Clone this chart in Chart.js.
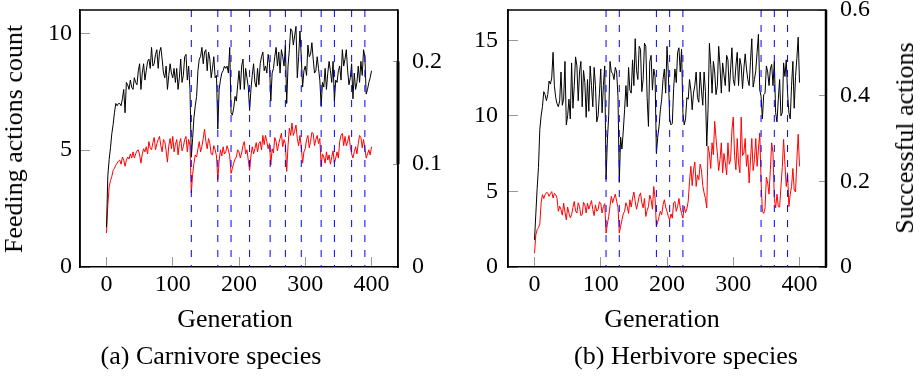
<!DOCTYPE html>
<html>
<head>
<meta charset="utf-8">
<script src="https://cdn.jsdelivr.net/npm/chart.js@4.4.0/dist/chart.umd.min.js"></script>
<style>
  body { margin: 0; background: #fff; width: 920px; height: 376px; position: relative; overflow: hidden; font-family: "Liberation Serif", serif; }
  canvas { position: absolute; top: 0; }
  .lbl { position: absolute; font-size: 26px; line-height: 26px; white-space: nowrap; color: #000; }
  .rot { transform: translate(-50%, -50%) rotate(-90deg); }
  .ctr { transform: translateX(-50%); }
</style>
</head>
<body>
<canvas id="chartA" width="460" height="376" style="left:0px"></canvas>
<canvas id="chartB" width="460" height="376" style="left:460px"></canvas>
<div class="lbl rot" style="left:13.5px; top:139px">Feeding actions count</div>
<div class="lbl rot" style="left:905px; top:138px">Successful actions</div>
<div class="lbl ctr" style="left:235px; top:306px">Generation</div>
<div class="lbl ctr" style="left:662px; top:306px">Generation</div>
<div class="lbl ctr" style="left:211px; top:343px">(a) Carnivore species</div>
<div class="lbl ctr" style="left:686px; top:343px">(b) Herbivore species</div>
<script>
// generation of each sample (every 2nd generation, 0..400)
const gens = Array.from({ length: 201 }, (_, i) => i * 2);

// (a) carnivores: feeding actions (left axis), successful actions (right axis)
const feedA = [
  1.7, 3.9, 4.6, 5.1, 5.7, 6.1, 6.6, 7.0, 6.9, 7.0,
  7.0, 6.9, 7.2, 7.6, 6.6, 7.9, 7.8, 7.6, 8.0, 7.7,
  7.6, 8.1, 7.9, 7.8, 8.4, 8.7, 7.6, 8.3, 8.7, 8.0,
  8.4, 8.8, 8.9, 8.5, 9.4, 8.6, 8.7, 9.1, 9.3, 8.5,
  9.2, 9.4, 8.9, 8.3, 8.1, 8.6, 7.6, 8.2, 8.7, 8.3,
  8.1, 8.5, 7.9, 8.5, 7.6, 8.1, 8.9, 7.9, 8.2, 9.0,
  9.1, 8.0, 8.6, 7.6, 4.7, 5.5, 6.4, 6.9, 7.3, 8.4,
  8.9, 9.0, 9.4, 8.7, 9.2, 9.3, 8.4, 9.2, 8.9, 8.1,
  8.5, 9.0, 8.1, 8.2, 5.9, 7.6, 8.0, 8.3, 8.4, 8.6,
  8.5, 8.6, 8.3, 9.4, 6.6, 6.5, 6.8, 7.3, 7.1, 7.8,
  8.4, 7.6, 8.6, 8.9, 7.6, 8.5, 8.1, 7.7, 6.7, 7.6,
  8.2, 8.7, 7.9, 7.7, 8.5, 7.8, 8.7, 9.0, 9.2, 8.4,
  8.6, 8.3, 9.1, 8.7, 7.1, 8.3, 8.5, 9.0, 9.4, 8.6,
  9.2, 8.3, 9.3, 9.0, 8.6, 9.5, 7.0, 8.6, 9.3, 10.2,
  10.1, 9.5, 9.9, 10.3, 8.1, 9.0, 10.1, 9.0, 7.7, 8.4,
  8.6, 8.2, 9.5, 9.0, 9.1, 9.6, 8.9, 8.3, 8.4, 9.0,
  8.5, 8.0, 6.9, 7.9, 7.7, 8.5, 7.6, 8.3, 8.8, 8.4,
  7.9, 8.8, 7.1, 8.0, 7.9, 8.4, 8.6, 8.0, 9.3, 8.6,
  8.9, 9.3, 8.4, 7.8, 8.1, 8.7, 7.2, 8.3, 7.6, 7.9,
  8.6, 7.9, 8.8, 8.2, 9.3, 9.0, 7.4, 7.6, 7.9, 8.1,
  8.4
];
const succA = [
  0.033, 0.060, 0.078, 0.084, 0.088, 0.094, 0.096, 0.099, 0.101, 0.103,
  0.104, 0.100, 0.107, 0.104, 0.098, 0.104, 0.107, 0.105, 0.110, 0.106,
  0.112, 0.106, 0.110, 0.113, 0.114, 0.109, 0.101, 0.110, 0.115, 0.112,
  0.117, 0.110, 0.122, 0.116, 0.114, 0.121, 0.126, 0.114, 0.120, 0.124,
  0.127, 0.118, 0.112, 0.124, 0.122, 0.113, 0.102, 0.118, 0.125, 0.115,
  0.127, 0.112, 0.119, 0.124, 0.109, 0.120, 0.125, 0.113, 0.117, 0.124,
  0.127, 0.112, 0.124, 0.118, 0.072, 0.090, 0.101, 0.109, 0.107, 0.115,
  0.122, 0.112, 0.117, 0.125, 0.134, 0.122, 0.115, 0.125, 0.120, 0.110,
  0.109, 0.118, 0.114, 0.108, 0.085, 0.103, 0.114, 0.108, 0.117, 0.110,
  0.112, 0.118, 0.114, 0.108, 0.091, 0.096, 0.101, 0.105, 0.107, 0.114,
  0.112, 0.106, 0.111, 0.118, 0.122, 0.110, 0.114, 0.104, 0.094, 0.108,
  0.117, 0.110, 0.115, 0.121, 0.112, 0.120, 0.122, 0.114, 0.128, 0.119,
  0.128, 0.122, 0.115, 0.120, 0.099, 0.115, 0.111, 0.126, 0.122, 0.113,
  0.120, 0.125, 0.130, 0.117, 0.124, 0.120, 0.093, 0.118, 0.135, 0.128,
  0.140, 0.128, 0.132, 0.138, 0.125, 0.118, 0.128, 0.117, 0.101, 0.112,
  0.115, 0.124, 0.128, 0.116, 0.122, 0.131, 0.130, 0.118, 0.124, 0.128,
  0.120, 0.125, 0.098, 0.110, 0.107, 0.101, 0.112, 0.104, 0.109, 0.100,
  0.107, 0.113, 0.101, 0.106, 0.112, 0.106, 0.122, 0.128, 0.130, 0.118,
  0.127, 0.118, 0.122, 0.128, 0.117, 0.110, 0.106, 0.112, 0.117, 0.110,
  0.120, 0.128, 0.126, 0.116, 0.124, 0.115, 0.106, 0.110, 0.114, 0.109,
  0.117
];
const resetsA = [128, 168, 188, 216, 247, 270, 294, 324, 344, 370, 390];

// (b) herbivores
const feedB = [
  1.8, 3.5, 5.2, 6.6, 9.1, 10.0, 10.6, 11.6, 11.4, 11.0,
  11.4, 12.3, 12.1, 12.5, 14.2, 12.0, 11.2, 10.8, 10.6, 11.0,
  12.9, 10.7, 11.1, 13.6, 9.4, 10.0, 11.1, 9.8, 13.5, 10.5,
  12.0, 13.9, 13.3, 11.0, 12.9, 13.6, 10.6, 13.0, 12.2, 9.9,
  12.4, 10.3, 13.3, 12.0, 10.6, 13.2, 12.0, 9.6, 10.0, 11.5,
  13.1, 10.2, 12.0, 13.3, 5.8, 8.4, 10.0, 13.6, 12.9, 12.8,
  12.4, 13.2, 12.9, 11.3, 5.6, 8.6, 7.8, 9.0, 10.4, 12.0,
  10.6, 13.2, 11.7, 11.5, 13.7, 12.0, 15.1, 13.0, 12.4, 14.6,
  14.4, 11.6, 12.4, 14.8, 14.6, 11.2, 9.3, 13.6, 14.0, 11.7,
  13.1, 12.6, 7.5, 8.6, 9.3, 10.4, 11.1, 12.4, 13.1, 11.5,
  14.6, 12.8, 9.8, 9.4, 9.5, 11.8, 13.1, 12.2, 14.2, 14.5,
  12.9, 14.4, 10.2, 9.4, 9.8, 11.2, 11.1, 12.4, 11.7, 10.4,
  11.5, 12.0, 12.9, 11.2, 10.9, 12.9, 11.7, 10.7, 12.9, 11.6,
  8.0, 10.5, 14.8, 13.4, 11.5, 13.6, 12.9, 11.4, 12.0, 14.6,
  13.3, 11.5, 13.5, 12.7, 12.0, 14.0, 13.7, 11.6, 13.1, 14.5,
  12.4, 12.0, 13.3, 14.2, 12.0, 13.8, 13.3, 11.8, 13.1, 14.1,
  13.1, 12.4, 12.0, 13.6, 15.1, 11.9, 12.4, 13.0, 14.2, 15.4,
  11.7, 11.3, 9.8, 11.4, 11.5, 13.3, 12.9, 12.0, 13.1, 13.4,
  12.0, 13.6, 10.2, 9.6, 11.1, 12.4, 10.0, 10.2, 13.5, 12.6,
  13.7, 11.5, 10.2, 9.8, 12.0, 13.6, 10.5, 12.6, 13.8, 15.2,
  12.2
];
const succB = [
  0.032, 0.075, 0.087, 0.092, 0.100, 0.150, 0.169, 0.160, 0.169, 0.174,
  0.173, 0.165, 0.171, 0.176, 0.161, 0.172, 0.169, 0.160, 0.130, 0.142,
  0.134, 0.121, 0.149, 0.128, 0.110, 0.140, 0.126, 0.115, 0.122, 0.139,
  0.153, 0.131, 0.126, 0.150, 0.141, 0.120, 0.122, 0.151, 0.145, 0.126,
  0.149, 0.135, 0.145, 0.155, 0.134, 0.120, 0.145, 0.130, 0.134, 0.152,
  0.149, 0.126, 0.141, 0.148, 0.079, 0.100, 0.118, 0.143, 0.165, 0.150,
  0.161, 0.170, 0.153, 0.140, 0.079, 0.095, 0.110, 0.124, 0.130, 0.150,
  0.141, 0.125, 0.157, 0.140, 0.161, 0.175, 0.153, 0.135, 0.149, 0.165,
  0.173, 0.150, 0.138, 0.160, 0.118, 0.132, 0.141, 0.168, 0.157, 0.135,
  0.188, 0.160, 0.095, 0.105, 0.118, 0.130, 0.122, 0.145, 0.157, 0.140,
  0.130, 0.118, 0.110, 0.124, 0.114, 0.150, 0.153, 0.130, 0.141, 0.160,
  0.138, 0.125, 0.114, 0.142, 0.127, 0.136, 0.153, 0.200, 0.235, 0.190,
  0.227, 0.245, 0.188, 0.215, 0.204, 0.240, 0.227, 0.190, 0.173, 0.160,
  0.138, 0.282, 0.266, 0.230, 0.290, 0.262, 0.340, 0.300, 0.266, 0.225,
  0.251, 0.290, 0.220, 0.265, 0.243, 0.215, 0.290, 0.240, 0.250, 0.320,
  0.350, 0.260, 0.227, 0.300, 0.243, 0.220, 0.350, 0.260, 0.266, 0.300,
  0.235, 0.262, 0.196, 0.250, 0.300, 0.225, 0.251, 0.300, 0.235, 0.275,
  0.313, 0.200, 0.130, 0.125, 0.138, 0.210, 0.196, 0.170, 0.227, 0.290,
  0.266, 0.160, 0.138, 0.170, 0.141, 0.140, 0.188, 0.232, 0.298, 0.240,
  0.188, 0.220, 0.141, 0.170, 0.188, 0.230, 0.180, 0.175, 0.250, 0.310,
  0.235
];
const resetsB = [108, 128, 184, 204, 224, 342, 362, 382];

const xTicks = [0, 100, 200, 300, 400];
const yTicksA = [0, 5, 10];
const y1TicksA = [0, 0.1, 0.2];
const yTicksB = [0, 5, 10, 15];
const y1TicksB = [0, 0.2, 0.4, 0.6];

const tickFont = { family: 'Liberation Serif', size: 24, lineHeight: 1.2 };
const frameColor = '#000';

// dashed reset markers + frame edges, drawn on top of everything
const overlay = {
  id: 'overlay',
  afterDraw(chart, args, o) {
    const { ctx, chartArea: a, scales } = chart;
    ctx.save();
    ctx.strokeStyle = '#0000ff';
    ctx.lineWidth = 1;
    ctx.setLineDash([7, 8]);
    o.resets.forEach(g => {
      const px = scales.x.getPixelForValue(g);
      ctx.beginPath();
      ctx.moveTo(px, a.top);
      ctx.lineTo(px, a.bottom);
      ctx.stroke();
    });
    ctx.setLineDash([]);
    ctx.strokeStyle = frameColor;
    ctx.lineWidth = 1.5;
    ctx.beginPath();
    ctx.moveTo(a.left, a.top);
    ctx.lineTo(a.right, a.top);
    ctx.moveTo(a.left, a.top);
    ctx.lineTo(a.left, a.bottom);
    ctx.moveTo(a.right, a.top);
    ctx.lineTo(a.right, a.bottom);
    ctx.stroke();
    ctx.lineWidth = o.thickW;
    ctx.beginPath();
    ctx.moveTo(a.right, scales.y1.getPixelForValue(o.thickFrom));
    ctx.lineTo(a.right, scales.y1.getPixelForValue(o.thickTo));
    ctx.stroke();
    ctx.restore();
  }
};

function axis(pos, min, max, ticks, width, tickLen, pad) {
  return {
    type: 'linear', position: pos, min: min, max: max,
    afterBuildTicks: s => { s.ticks = ticks.map(v => ({ value: v })); },
    afterFit: s => { s.width = width; s.paddingTop = 0; s.paddingBottom = 0; },
    grid: { drawOnChartArea: false, drawTicks: true, tickLength: tickLen, color: '#999', lineWidth: 1 },
    border: { display: true, color: frameColor, width: 1.5 },
    ticks: { font: tickFont, color: '#000', padding: pad }
  };
}

function panel(id, feed, succ, yMax, yTicks, y1Max, y1Ticks, leftW, rightW, leftPad, rightTick, rightPad, resets, thick) {
  new Chart(document.getElementById(id), {
    type: 'line',
    data: {
      datasets: [
        { data: gens.map((g, i) => ({ x: g, y: feed[i] })), yAxisID: 'y', borderColor: '#000', borderWidth: 1 },
        { data: gens.map((g, i) => ({ x: g, y: succ[i] })), yAxisID: 'y1', borderColor: '#ff0000', borderWidth: 1 }
      ]
    },
    options: {
      responsive: false,
      animation: false,
      layout: { padding: { top: 10, left: 0, right: 0, bottom: 0 } },
      elements: { point: { radius: 0 }, line: { tension: 0 } },
      plugins: {
        legend: { display: false },
        tooltip: { enabled: false },
        overlay: { resets: resets, thickFrom: thick[0], thickTo: thick[1], thickW: thick[2] }
      },
      scales: {
        x: {
          type: 'linear', min: -40, max: 440,
          afterBuildTicks: s => { s.ticks = xTicks.map(v => ({ value: v })); },
          afterFit: s => { s.height = 109; s.paddingLeft = 0; s.paddingRight = 0; },
          grid: { drawOnChartArea: false, drawTicks: true, tickLength: -10, color: '#999', lineWidth: 1 },
          border: { display: true, color: frameColor, width: 1.5 },
          ticks: { font: tickFont, color: '#000', padding: 13, maxRotation: 0 }
        },
        y: axis('left', 0, yMax, yTicks, leftW, -10, leftPad),
        y1: axis('right', 0, y1Max, y1Ticks, rightW, rightTick, rightPad)
      }
    },
    plugins: [overlay]
  });
}

panel('chartA', feedA, succA, 11, yTicksA, 0.25, y1TicksA, 80, 62, 18, -5, 19, resetsA, [0.1, 0.2, 3]);
panel('chartB', feedB, succB, 17, yTicksB, 0.6, y1TicksB, 48, 94, 20, -7, 21, resetsB, [0, 0.6, 2.5]);
</script>
</body>
</html>
